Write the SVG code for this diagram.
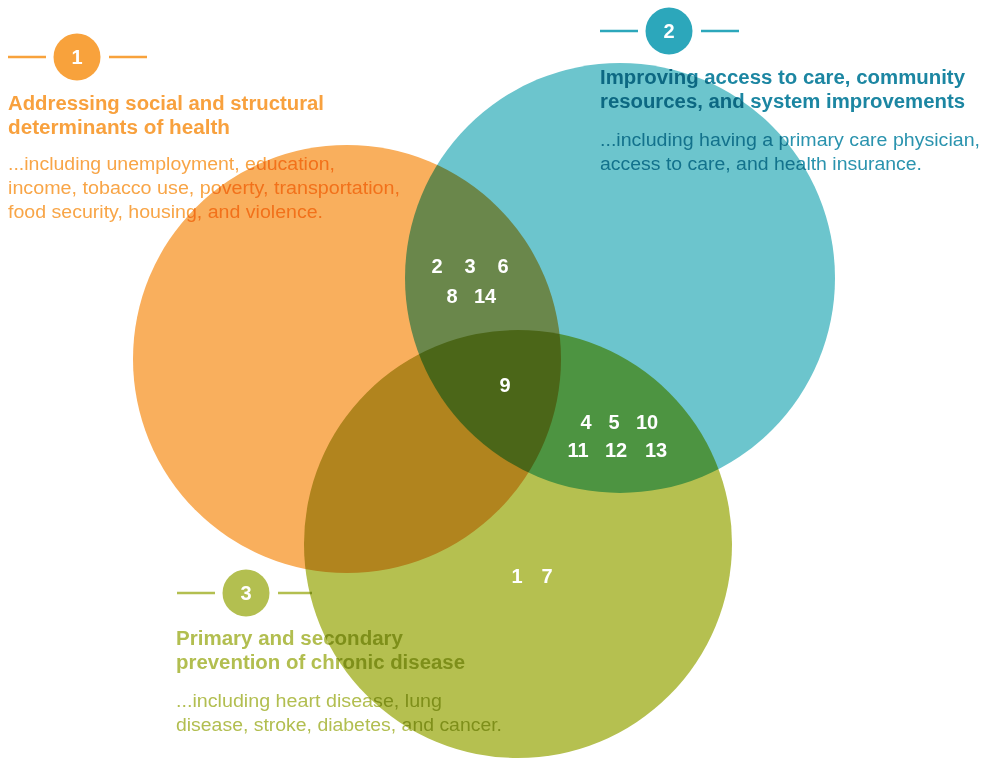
<svg xmlns="http://www.w3.org/2000/svg" width="982" height="758" viewBox="0 0 982 758">
<style>
.t{font-family:"Liberation Sans",Arial,sans-serif;font-weight:bold;font-size:19.5px}
.d{font-family:"Liberation Sans",Arial,sans-serif;font-size:17.5px}
.bn{font-family:"Liberation Sans",Arial,sans-serif;font-weight:bold;font-size:20px;fill:#fff;text-anchor:middle}
.n{font-family:"Liberation Sans",Arial,sans-serif;font-weight:bold;font-size:20px;fill:#fff;text-anchor:middle}
.c{mix-blend-mode:multiply}
</style>
<rect width="982" height="758" fill="#fff"/>
<g id="label1">
<line x1="8" y1="57" x2="46" y2="57" stroke="#F8A23C" stroke-width="2.5"/>
<line x1="109" y1="57" x2="147" y2="57" stroke="#F8A23C" stroke-width="2.5"/>
<circle cx="77" cy="57" r="23.5" fill="#F8A23C"/>
<text class="bn" x="77" y="64">1</text>
<text class="t" fill="#F8A13E" x="8" y="110" textLength="316" lengthAdjust="spacingAndGlyphs">Addressing social and structural</text>
<text class="t" fill="#F8A13E" x="8" y="134" textLength="222" lengthAdjust="spacingAndGlyphs">determinants of health</text>
<text class="d" fill="#F8A547" x="8" y="170" textLength="327" lengthAdjust="spacingAndGlyphs">...including unemployment, education,</text>
<text class="d" fill="#F8A547" x="8" y="194" textLength="392" lengthAdjust="spacingAndGlyphs">income, tobacco use, poverty, transportation,</text>
<text class="d" fill="#F8A547" x="8" y="218" textLength="315" lengthAdjust="spacingAndGlyphs">food security, housing, and violence.</text>
</g>
<g id="label2">
<line x1="600" y1="31" x2="638" y2="31" stroke="#2CA7BB" stroke-width="2.5"/>
<line x1="701" y1="31" x2="739" y2="31" stroke="#2CA7BB" stroke-width="2.5"/>
<circle cx="669" cy="31" r="23.5" fill="#2CA7BB"/>
<text class="bn" x="669" y="38">2</text>
<text class="t" fill="#1C86A2" x="600" y="84" textLength="365" lengthAdjust="spacingAndGlyphs">Improving access to care, community</text>
<text class="t" fill="#1C86A2" x="600" y="108" textLength="365" lengthAdjust="spacingAndGlyphs">resources, and system improvements</text>
<text class="d" fill="#2A93AE" x="600" y="146" textLength="380" lengthAdjust="spacingAndGlyphs">...including having a primary care physician,</text>
<text class="d" fill="#2A93AE" x="600" y="170" textLength="322" lengthAdjust="spacingAndGlyphs">access to care, and health insurance.</text>
</g>
<g id="label3">
<line x1="177" y1="593" x2="215" y2="593" stroke="#B3BF50" stroke-width="2.5"/>
<line x1="278" y1="593" x2="312" y2="593" stroke="#B3BF50" stroke-width="2.5"/>
<circle cx="246" cy="593" r="23.5" fill="#B3BF50"/>
<text class="bn" x="246" y="600">3</text>
<text class="t" fill="#B2BE50" x="176" y="645" textLength="227" lengthAdjust="spacingAndGlyphs">Primary and secondary</text>
<text class="t" fill="#B2BE50" x="176" y="669" textLength="289" lengthAdjust="spacingAndGlyphs">prevention of chronic disease</text>
<text class="d" fill="#B2BE50" x="176" y="707" textLength="266" lengthAdjust="spacingAndGlyphs">...including heart disease, lung</text>
<text class="d" fill="#B2BE50" x="176" y="731" textLength="326" lengthAdjust="spacingAndGlyphs">disease, stroke, diabetes, and cancer.</text>
</g>
<g id="circles">
<circle id="c1" class="c" cx="347" cy="359" r="214" fill="#F9AF5D"/>
<circle id="c2" class="c" cx="620" cy="278" r="215" fill="#6CC5CD"/>
<circle id="c3" class="c" cx="518" cy="544" r="214" fill="#B5C050"/>
</g>
<g id="numbers">
<text class="n" x="437" y="273">2</text>
<text class="n" x="470" y="273">3</text>
<text class="n" x="503" y="273">6</text>
<text class="n" x="452" y="303">8</text>
<text class="n" x="485" y="303">14</text>
<text class="n" x="505" y="392">9</text>
<text class="n" x="586" y="429">4</text>
<text class="n" x="614" y="429">5</text>
<text class="n" x="647" y="429">10</text>
<text class="n" x="578" y="457">11</text>
<text class="n" x="616" y="457">12</text>
<text class="n" x="656" y="457">13</text>
<text class="n" x="517" y="583">1</text>
<text class="n" x="547" y="583">7</text>
</g>
</svg>
